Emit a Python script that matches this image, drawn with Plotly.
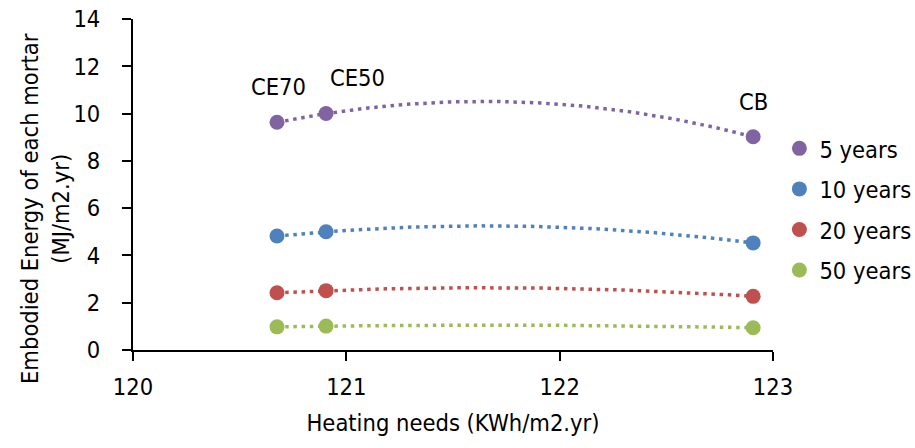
import numpy as np
import plotly.graph_objects as go

mortars = ["CE70", "CE50", "CB"]
heating_needs = [120.675, 120.905, 122.907]
series_names = ["5 years", "10 years", "20 years", "50 years"]
energy_5y = [9.63, 10.0, 9.02]
energy_10y = [4.82, 5.0, 4.53]
energy_20y = [2.42, 2.51, 2.27]
energy_50y = [0.98, 1.01, 0.94]
colors = ["#8064A2", "#4F81BD", "#C0504D", "#9BBB59"]
x_ticks = [120, 121, 122, 123]
y_ticks = [0, 2, 4, 6, 8, 10, 12, 14]
x_title = "Heating needs (KWh/m2.yr)"
y_title = "Embodied Energy of each mortar<br>(MJ/m2.yr)"

FONT = "DejaVu Sans Condensed, Liberation Sans Narrow, Arial Narrow, Liberation Sans, sans-serif"
FS = 23.5

fig = go.Figure()
all_series = [energy_5y, energy_10y, energy_20y, energy_50y]
xs = np.array(heating_needs)
grid = np.linspace(xs.min(), xs.max(), 300)
for name, vals, col in zip(series_names, all_series, colors):
    coef = np.polyfit(xs, np.array(vals), 2)
    fig.add_trace(go.Scatter(x=grid, y=np.polyval(coef, grid), mode="lines",
                             line=dict(color=col, width=3.5, dash="3.5px,4.7px"),
                             showlegend=False, hoverinfo="skip"))
for name, vals, col in zip(series_names, all_series, colors):
    fig.add_trace(go.Scatter(x=heating_needs, y=vals, mode="markers", name=name,
                             legendgroup=name,
                             marker=dict(color=col, size=15)))

label_shifts = [(1, 35), (31, 36), (0, 35)]
for m, xv, yv, (dx, dy) in zip(mortars, heating_needs, energy_5y, label_shifts):
    fig.add_annotation(x=xv, y=yv, text=m, showarrow=False, xshift=dx, yshift=dy,
                       font=dict(size=FS, color="black", family=FONT))

# y-axis title
fig.add_annotation(xref="paper", yref="paper", x=0, y=0.426, xanchor="center", yanchor="middle",
                   xshift=-87, text=y_title, textangle=-90, showarrow=False,
                   font=dict(size=FS, color="black", family=FONT))

axis_common = dict(showline=True, linecolor="black", linewidth=2, ticks="outside",
                   tickcolor="black", ticklen=9, tickwidth=2, showgrid=False,
                   zeroline=False, automargin=False,
                   tickfont=dict(size=FS, color="black", family=FONT))
fig.update_xaxes(range=[120, 123], tickvals=x_ticks, ticklabelstandoff=6,
                 title=dict(text=x_title, font=dict(size=FS, family=FONT, color="black"), standoff=14),
                 **axis_common)
fig.update_yaxes(range=[0, 14], tickvals=y_ticks, ticklabelstandoff=17,
                 **axis_common)

# inside half of the crossing tick marks
inner = dict(ticks="inside", ticklen=9, tickwidth=2, tickcolor="black", showline=False,
             showgrid=False, zeroline=False, showticklabels=False, automargin=False)
fig.update_layout(
    xaxis2=dict(overlaying="x", anchor="y", range=[120, 123], tickvals=x_ticks, **inner),
    yaxis2=dict(overlaying="y", anchor="x", range=[0, 14], tickvals=y_ticks, **inner),
)

fig.update_layout(width=915, height=448, plot_bgcolor="white", paper_bgcolor="white",
                  margin=dict(l=133, r=142, t=19, b=98, autoexpand=False),
                  font=dict(family=FONT, size=FS, color="black"),
                  legend=dict(x=1.01, y=0.675, yanchor="top", xanchor="left",
                              font=dict(size=FS, family=FONT, color="black"),
                              itemsizing="trace", tracegroupgap=7))
fig.write_html("out.html", config={"displayModeBar": False},
               post_script="document.body.style.margin='0';document.body.style.overflow='hidden';")
